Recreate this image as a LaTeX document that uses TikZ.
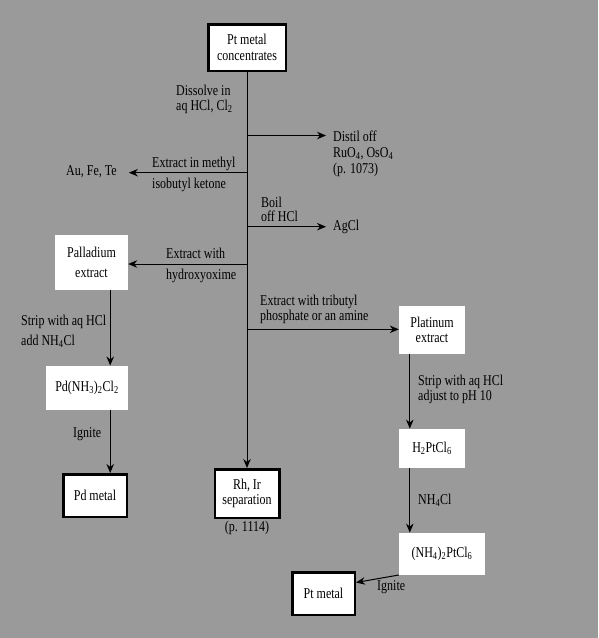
\documentclass[tikz,border=0pt]{standalone}
\usepackage{fontspec}
\setmainfont[FakeStretch=0.8]{Liberation Serif}
\usetikzlibrary{arrows.meta}
\definecolor{bggray}{HTML}{9A9A9A}

\begin{document}
\begin{tikzpicture}[x=1pt,y=-1pt,
  font=\fontsize{15}{14.5}\selectfont,
  box/.style={fill=white, inner sep=0pt, align=center},
  metal/.style={box, draw, line width=2.5pt},
  lbl/.style={anchor=base west, inner sep=0pt, align=left},
  arr/.style={-{Stealth[length=9pt,width=7.5pt]}, line width=1pt}]
\fill[bggray] (0,0) rectangle (598,638);
\useasboundingbox (0,0) rectangle (598,638);
% boxes
\node[metal, minimum width=77.5pt, minimum height=46.5pt] (conc) at (247,47.5) {Pt metal\\[1.5pt]concentrates};
\node[box, minimum width=73pt, minimum height=55pt] (pdext) at (91.5,262.5) {Palladium\\[6pt]extract};
\node[box, minimum width=82pt, minimum height=44pt] (pdcl) at (87,387.7) {Pd(NH\textsubscript{3})\textsubscript{2}Cl\textsubscript{2}};
\node[metal, minimum width=63.5pt, minimum height=42.5pt] (pdm) at (95,495.5) {Pd metal};
\node[metal, minimum width=64.5pt, minimum height=48.5pt] (rhir) at (247,493.5) {Rh, Ir\\separation};
\node[box, minimum width=66pt, minimum height=48pt] (ptext) at (432,330) {Platinum\\extract};
\node[box, minimum width=66pt, minimum height=39pt] (hpt) at (432,448.3) {H\textsubscript{2}PtCl\textsubscript{6}};
\node[box, minimum width=86pt, minimum height=42pt] (nhpt) at (442,553.8) {(NH\textsubscript{4})\textsubscript{2}PtCl\textsubscript{6}};
\node[metal, minimum width=62.5pt, minimum height=42.5pt] (ptm) at (323.5,593.5) {Pt metal};
% labels
\node[lbl] (diss) at (176,110) {Dissolve in\\aq HCl, Cl\textsubscript{2}};
\node[lbl] (distil) at (333,173) {Distil off\\[1.5pt]RuO\textsubscript{4}, OsO\textsubscript{4}\\[1.5pt](p. 1073)};
\node[lbl] (aufe) at (66,175) {Au, Fe, Te};
\node[lbl] (mibk) at (152,167.7) {Extract in methyl};
\node[lbl] (mibk2) at (152,188.7) {isobutyl ketone};
\node[lbl] (boil) at (261,221.7) {Boil\\off HCl};
\node[lbl] (agcl) at (333,230.7) {AgCl};
\node[lbl] (hox) at (166,258.3) {Extract with};
\node[lbl] (hox2) at (166,279.3) {hydroxyoxime};
\node[lbl] (tbp) at (260,320) {Extract with tributyl\\phosphate or an amine};
\node[lbl] (strip) at (21,325) {Strip with aq HCl};
\node[lbl] (strip2) at (21,345.7) {add NH\textsubscript{4}Cl};
\node[lbl] (ign) at (73,437.3) {Ignite};
\node[lbl, anchor=base] (p1114) at (247,531.7) {(p. 1114)};
\node[lbl] (strip3) at (418,400) {Strip with aq HCl\\adjust to pH 10};
\node[lbl] (nhcl) at (418,504) {NH\textsubscript{4}Cl};
\node[lbl] (ign2) at (377,590) {Ignite};
% junctions on the main line
\coordinate (j1) at (247,135.5);
\coordinate (j2) at (247,172.7);
\coordinate (j3) at (247,226.7);
\coordinate (j4) at (247,264);
\coordinate (j5) at (247,329.3);
% connectors
\path[draw,arr] (conc) -- (rhir);
\path[draw,arr,shorten >=7pt] (j1) -- (j1 -| distil.west);
\path[draw,arr,shorten >=12pt] (j2) -- (j2 -| aufe.east);
\path[draw,arr,shorten >=7pt] (j3) -- (j3 -| agcl.west);
\path[draw,arr] (j4) -- (j4 -| pdext.east);
\path[draw,arr] (j5) -- (j5 -| ptext.west);
\path[draw,arr] ([xshift=-18pt]pdext.south east) -- ([xshift=-18pt]pdext.south east |- pdcl.north);
\path[draw,arr] ([xshift=-18pt]pdcl.south east) -- ([xshift=-18pt]pdcl.south east |- pdm.north);
\path[draw,arr] ([xshift=11pt]ptext.south west) -- ([xshift=11pt]ptext.south west |- hpt.north);
\path[draw,arr] ([xshift=11pt]hpt.south west) -- ([xshift=11pt]hpt.south west |- nhpt.north);
\path[draw,arr] (nhpt.south west) -- ([yshift=11pt]ptm.east);
\end{tikzpicture}
\end{document}
